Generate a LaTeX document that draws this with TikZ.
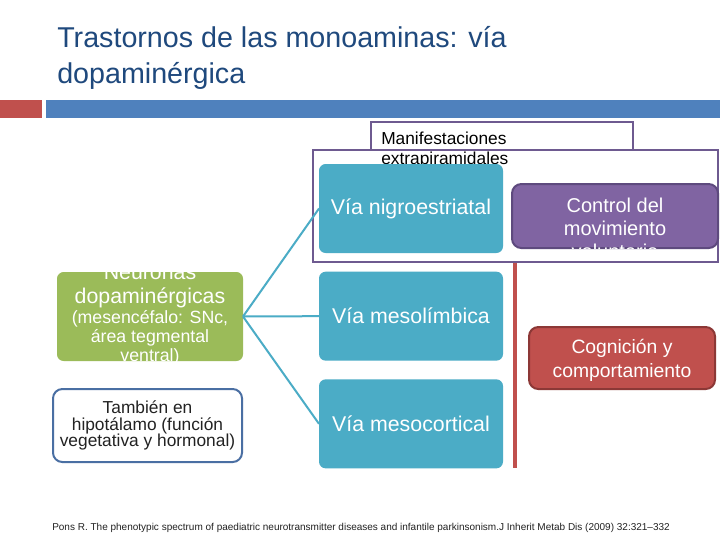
\documentclass[tikz,border=0pt]{standalone}
\usepackage{fontspec}
\setmainfont{Liberation Sans}
\usetikzlibrary{positioning}
\definecolor{titleink}{HTML}{1F497D}
\definecolor{barred}{HTML}{C0504D}
\definecolor{barblue}{HTML}{4F81BD}
\definecolor{tealpath}{HTML}{4BACC6}
\definecolor{greensrc}{HTML}{9BBB59}
\definecolor{motorfill}{HTML}{8064A2}
\definecolor{motorline}{HTML}{5E4A7E}
\definecolor{frameline}{HTML}{6E5A90}
\definecolor{cogfill}{HTML}{C0504D}
\definecolor{cogline}{HTML}{8C3836}
\definecolor{hypoline}{HTML}{4A6FA3}
\definecolor{citeink}{HTML}{222222}
\tikzset{
  pathbox/.style={
    rectangle,rounded corners=5pt,fill=tealpath,
    minimum width=138pt,minimum height=66.75pt,inner sep=0pt,outer sep=0pt,
    text=white,font=\fontsize{16}{19}\selectfont
  },
  srcbox/.style={
    rectangle,rounded corners=5pt,fill=greensrc,
    minimum width=139.5pt,minimum height=66.75pt,inner sep=0pt,outer sep=0pt
  },
  hypobox/.style={
    rectangle,rounded corners=7pt,draw=hypoline,line width=1.5pt,fill=white,
    minimum width=141.75pt,minimum height=54.75pt,inner sep=0pt,align=center,
    text=citeink,font=\fontsize{13}{12.5}\selectfont
  },
  motorbox/.style={
    rectangle,rounded corners=7pt,draw=motorline,line width=1.5pt,fill=motorfill,
    minimum width=154.5pt,minimum height=48pt,inner sep=0pt,outer sep=0pt
  },
  cogbox/.style={
    rectangle,rounded corners=7pt,draw=cogline,line width=1.5pt,fill=cogfill,
    minimum width=139.5pt,minimum height=46.5pt,inner sep=0pt,align=center,
    text=white,font=\fontsize{14.5}{18}\selectfont
  },
  boxtext/.style={inner sep=0pt,align=center,text=white},
  link/.style={draw=tealpath,line width=1.5pt},
  spine/.style={draw=barred,line width=2.6pt}
}
\begin{document}
\begin{tikzpicture}[x=0.75pt,y=-0.75pt,node distance=14pt]
  \useasboundingbox[fill=white] (0,0) rectangle (720,540);
  \fill[barred] (0,100) rectangle (42,118);
  \fill[barblue] (46,100) rectangle (720,118);
  \node[anchor=north west,inner sep=0pt,align=left,text=titleink,
    font=\fontsize{21.5}{27}\selectfont] (title) at (57,26.5)
    {Trastornos de las monoaminas: vía\\dopaminérgica};
  \draw[frameline,line width=1.5pt] (313,150) rectangle (718,262);
  \node[draw=frameline,line width=1.5pt,fill=white,minimum width=196.5pt,
    minimum height=21pt,inner sep=0pt] (manifest) at (502,136) {};
  \node[anchor=north west,inner sep=0pt,align=left,
    font=\fontsize{13}{14.5}\selectfont] (manitext) at ([xshift=8.25pt,yshift=-8.25pt]manifest.north west)
    {Manifestaciones\\extrapiramidales};
  \node[pathbox] (nigro) at (411,208.5) {Vía nigroestriatal};
  \node[pathbox,below=of nigro] (meso) {Vía mesolímbica};
  \node[pathbox,below=of meso] (cortical) {Vía mesocortical};
  \node[motorbox] (motor) at (615,216) {};
  \begin{scope}
    \clip (motor.south west) rectangle (motor.north east);
    \node[boxtext,anchor=north,font=\fontsize{15}{17.25}\selectfont] (motortext)
      at ([yshift=-10pt]motor.north) {Control del\\movimiento\\voluntario};
  \end{scope}
  \coordinate (spinetop) at (515,263);
  \coordinate (spinebottom) at (515,468);
  \draw[spine] (spinetop) -- (spinebottom);
  \node[cogbox] (cog) at (622,358) {};
  \node[boxtext,font=\fontsize{14.5}{18}\selectfont] (cogtext) at ([yshift=-2pt]cog.center)
    {Cognición y\\comportamiento};
  \node[srcbox] (neurons) at (150,316.5) {};
  \node[boxtext] (neurontext) at ([yshift=1pt]neurons.center)
    {\parbox{170pt}{\centering
     \fontsize{16}{18}\selectfont Neuronas\\dopaminérgicas\par
     \fontsize{13.3}{14.5}\selectfont (mesencéfalo: SNc,\\área tegmental\\ventral)\par}};
  \node[hypobox] (hypo) at (147.5,425.5) {También en\\hipotálamo (función\\vegetativa y hormonal)};
  \draw[link] (neurons.east) -- (nigro.west);
  \draw[link] (neurons.east) -- (meso.west);
  \draw[link] (neurons.east) -- (cortical.west);
  \node[anchor=base west,inner sep=0pt,text=citeink,font=\fontsize{7.5}{9}\selectfont] (cite) at (52,530)
    {Pons R. The phenotypic spectrum of paediatric neurotransmitter diseases and infantile parkinsonism.J Inherit Metab Dis (2009) 32:321–332};
\end{tikzpicture}
\end{document}
